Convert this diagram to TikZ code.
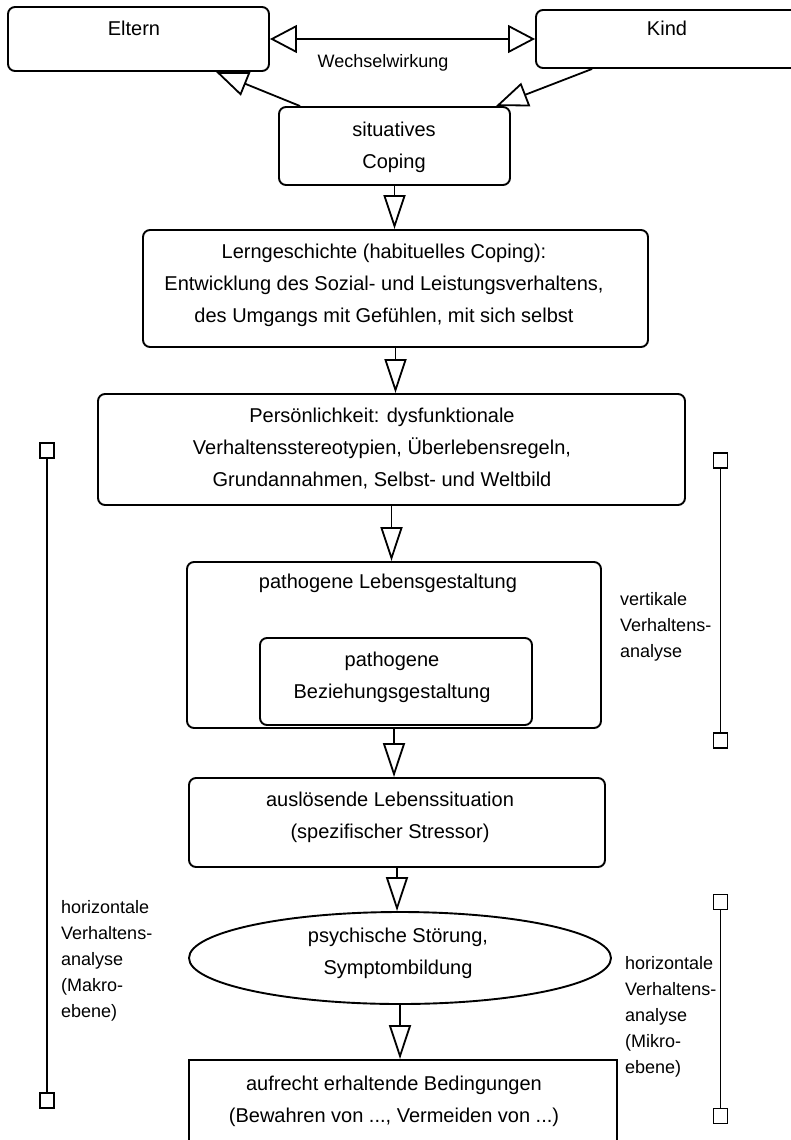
\documentclass[tikz,border=0pt]{standalone}
\usepackage{fontspec}
\setmainfont{Liberation Sans}
\usetikzlibrary{arrows.meta,shapes.geometric,calc}
\newcommand\ms{\rule[-6pt]{0pt}{24pt}}
\begin{document}
\begin{tikzpicture}[x=1pt,y=-1pt,
  box/.style={draw, line width=1.9pt, rounded corners=7pt, inner sep=0pt},
  txt/.style={font=\fontsize{20}{32}\selectfont, align=center, inner sep=0pt},
  small/.style={font=\fontsize{18}{26}\selectfont, align=center, inner sep=0pt},
  side/.style={font=\fontsize{18}{26}\selectfont, align=left, inner sep=0pt, anchor=west},
  flow/.style={line width=1.8pt, -{Triangle[open,length=34pt,width=22pt]}},
  diag/.style={line width=1.8pt, -{Triangle[open,length=32pt,width=25pt]}},
  wide/.style={line width=1.8pt, {Triangle[open,length=27pt,width=28pt]}-{Triangle[open,length=27pt,width=28pt]}},
  endsq/.style={draw, fill=white, line width=1.2pt, minimum width=14pt, minimum height=15pt, inner sep=0pt},
  brk/.style={line width=1.1pt}]
\useasboundingbox (0,0) rectangle (791,1140);
\clip (0,0) rectangle (791,1140);

% boxes
\node[box, minimum width=261pt, minimum height=64pt] (eltern) at (138.5,39) {};
\node[box, minimum width=270pt, minimum height=58pt] (kind) at (671,39) {};
\node[box, minimum width=231pt, minimum height=78pt] (coping) at (394.5,146) {};
\node[box, minimum width=505pt, minimum height=117pt] (lern) at (395.5,288.5) {};
\node[box, minimum width=587pt, minimum height=111pt] (pers) at (391.5,449.5) {};
\node[box, minimum width=414pt, minimum height=166pt] (leben) at (394,645) {};
\node[box, minimum width=272pt, minimum height=87pt] (bez) at (396,681.5) {};
\node[box, minimum width=416pt, minimum height=89pt] (ausl) at (397,822.5) {};
\node[draw, ellipse, line width=1.9pt, minimum width=422pt, minimum height=92pt, inner sep=0pt] (ell) at (400,958) {};
\node[box, rounded corners=0pt, minimum width=428pt, minimum height=100pt] (bed) at (403,1110) {};

% texts
\node[txt] (eltern-t) at (134,30) {Eltern\ms};
\node[txt] (kind-t) at (667,30) {Kind\ms};
\node[small] (ww-t) at (383,61) {Wechselwirkung\ms};
\node[txt] (coping-t) at (394,146.5) {situatives\ms\\Coping\ms};
\node[txt] (lern-t) at (384,284) {Lerngeschichte (habituelles Coping):\ms\\Entwicklung des Sozial- und Leistungsverhaltens,\ms\\des Umgangs mit Gefühlen, mit sich selbst\ms};
\node[txt] (pers-t) at (382,448.5) {Persönlichkeit: dysfunktionale\ms\\Verhaltensstereotypien, Überlebensregeln,\ms\\Grundannahmen, Selbst- und Weltbild\ms};
\node[txt] (leben-t) at (388,582) {pathogene Lebensgestaltung\ms};
\node[txt] (bez-t) at (392,676.5) {pathogene\ms\\Beziehungsgestaltung\ms};
\node[txt] (ausl-t) at (390,816.5) {auslösende Lebenssituation\ms\\(spezifischer Stressor)\ms};
\node[txt] (ell-t) at (398,952) {psychische Störung,\ms\\Symptombildung\ms};
\node[txt] (bed-t) at (394,1100.5) {aufrecht erhaltende Bedingungen\ms\\(Bewahren von ..., Vermeiden von ...)\ms};

% side labels
\node[side] (makro-t) at (61,959) {horizontale\ms\\Verhaltens-\ms\\analyse\ms\\(Makro-\ms\\ebene)\ms};
\node[side] (vert-t) at (620,625) {vertikale\ms\\Verhaltens-\ms\\analyse\ms};
\node[side] (mikro-t) at (625,1015) {horizontale\ms\\Verhaltens-\ms\\analyse\ms\\(Mikro-\ms\\ebene)\ms};

% connectors
\draw[wide] (eltern.east) -- (kind.west);
\draw[diag] ($(coping.north west)+(22,0)$) -- ($(eltern.south west)+(209,0)$);
\draw[diag] ($(kind.south west)+(57,0)$) -- ($(coping.north east)+(-15,0)$);
\draw[flow] (coping.south) -- (coping.south |- lern.north);
\draw[flow] (lern.south) -- (lern.south |- pers.north);
\draw[flow] (pers.south) -- (pers.south |- leben.north);
\draw[flow] (leben.south) -- (leben.south |- ausl.north);
\draw[flow] (ausl.south) -- (ausl.south |- ell.north);
\draw[flow] (ell.south) -- (ell.south |- bed.north);

% brackets
\node[endsq] (lq1) at (47,450.5) {};
\node[endsq] (lq2) at (47,1100.5) {};
\node[endsq] (vq1) at (720.5,460.5) {};
\node[endsq] (vq2) at (720.5,740.5) {};
\node[endsq] (hq1) at (720.5,902) {};
\node[endsq] (hq2) at (720.5,1116) {};
\draw[brk] (lq1) -- (lq2);
\draw[brk] (vq1) -- (vq2);
\draw[brk] (hq1) -- (hq2);
\end{tikzpicture}
\end{document}
